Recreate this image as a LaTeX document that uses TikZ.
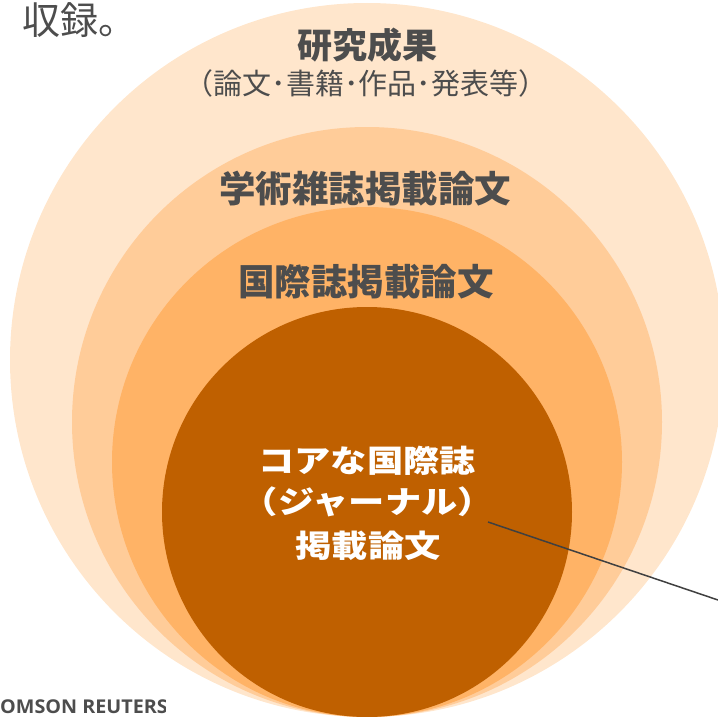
\documentclass[tikz,border=0pt]{standalone}
\usepackage{fontspec}
\newfontfamily\jp{Noto Sans CJK JP}
\newfontfamily\latsans{Open Sans}
\definecolor{ringA}{HTML}{FFE6CC}
\definecolor{ringB}{HTML}{FFCC99}
\definecolor{ringC}{HTML}{FFB366}
\definecolor{ringD}{HTML}{BF6000}
\definecolor{txtgray}{HTML}{4D4D4D}
\definecolor{linegray}{HTML}{404040}
\tikzset{
  lbl/.style={inner sep=0pt, text=txtgray, font=\jp},
  head/.style={lbl, font=\jp\bfseries\fontsize{36.5}{40}\selectfont},
  core/.style={inner sep=0pt, text=white, font=\jp\bfseries\fontsize{31}{34}\selectfont},
  leader/.style={draw=linegray, line width=1.5pt}
}
\begin{document}
\begin{tikzpicture}[x=1pt,y=-1pt]
\useasboundingbox (0,0) rectangle (718,717);
\begin{scope}
\clip (0,0) rectangle (718,717);
\fill[ringA] (367,360) circle[radius=357];
\fill[ringB] (367,422) circle[radius=295];
\fill[ringC] (367,462) circle[radius=255];
\fill[ringD] (367,512) circle[radius=205];
\end{scope}

\node[lbl, anchor=west, font=\jp\fontsize{38}{42}\selectfont] (shuroku) at (22,20) {収録。};
\node[lbl, font=\jp\bfseries\fontsize{35}{38}\selectfont] (kenkyu) at (367,45) {研究成果};
\node[lbl, font=\jp\fontsize{29}{32}\selectfont] (kakko) at (366,83) {（論文･書籍･作品･発表等）};
\node[head] (gakujutsu) at (365,189) {学術雑誌掲載論文};
\node[head] (kokusai) at (366,282) {国際誌掲載論文};
\node[core] (core1) at (367,461) {\scalebox{1.17}[1]{コアな国際誌}};
\node[core] (core2) at (368,502) {\scalebox{1.17}[1]{（ジャーナル）}};
\node[core] (core3) at (368,546) {\scalebox{1.17}[1]{掲載論文}};

\coordinate (lineA) at (488,522);
\coordinate (lineB) at (718,600);
\draw[leader] (lineA) -- (lineB);

\begin{scope}
\clip (0,690) rectangle (165,717);
\node[inner sep=0pt, anchor=base west, text=txtgray, font=\latsans\bfseries\fontsize{19}{21}\selectfont] (reuters) at (0,713) {\scalebox{1.04}[1]{OMSON REUTERS}};
\end{scope}
\end{tikzpicture}
\end{document}
